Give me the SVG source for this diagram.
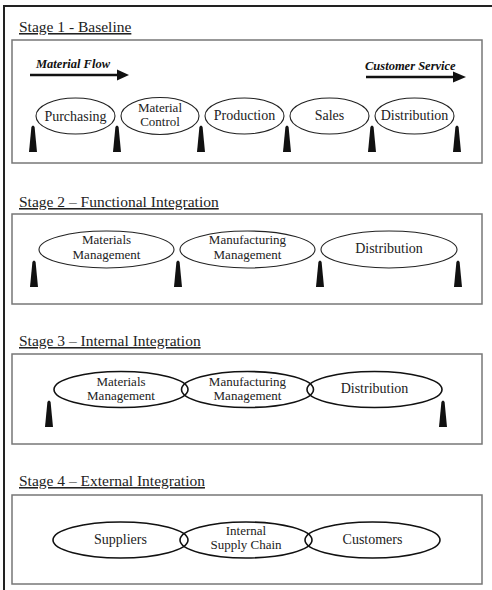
<svg xmlns="http://www.w3.org/2000/svg" width="492" height="590" viewBox="0 0 492 590">
<defs>
<style>
.title{font-family:"Liberation Serif",serif;font-size:15.5px;fill:#222;text-decoration:underline;}
.lbl{font-family:"Liberation Serif",serif;font-size:14px;fill:#222;text-anchor:middle;}
.lbl2{font-family:"Liberation Serif",serif;font-size:13px;fill:#222;text-anchor:middle;}
.flow{font-family:"Liberation Serif",serif;font-size:12.5px;font-weight:bold;font-style:italic;fill:#111;}
.box{fill:none;stroke:#777;stroke-width:1.5;}
.ell{fill:#fff;stroke:#222;stroke-width:1.1;}
.ell2{fill:none;stroke:#111;stroke-width:1.6;}
.spike{fill:#111;}
</style>
<path id="sp" d="M-4,0 L-1.6,-25 Q0,-28 1.6,-25 L4,0 Z"/>
</defs>
<rect width="492" height="590" fill="#fff"/>
<g id="frame" fill="none" stroke="#222" stroke-width="2">
<path d="M492,6 L4,6 L4,590"/>
</g>

<g id="stage1">
<text class="title" x="19" y="32">Stage 1 - Baseline</text>
<rect class="box" x="12" y="40" width="470" height="123"/>
<g id="material-flow">
<text class="flow" x="36" y="68">Material Flow</text>
<line x1="30" y1="75" x2="119" y2="75" stroke="#111" stroke-width="2.5"/>
<polygon points="117,69.5 129,75 117,80.5" fill="#111"/>
</g>
<g id="customer-service">
<text class="flow" x="365" y="70">Customer Service</text>
<line x1="366" y1="77" x2="455" y2="77" stroke="#111" stroke-width="2.5"/>
<polygon points="453,71.5 466,77 453,82.5" fill="#111"/>
</g>
<g id="purchasing"><ellipse class="ell" cx="75.5" cy="116" rx="39.5" ry="18"/><text class="lbl" x="75.5" y="121">Purchasing</text></g>
<g id="material-control"><ellipse class="ell" cx="160" cy="116" rx="39" ry="18.5"/><text class="lbl2" x="160" y="111.5">Material</text><text class="lbl2" x="160" y="126">Control</text></g>
<g id="production"><ellipse class="ell" cx="244.5" cy="116" rx="39.5" ry="18"/><text class="lbl" x="244.5" y="120">Production</text></g>
<g id="sales"><ellipse class="ell" cx="329.5" cy="116" rx="39.5" ry="18"/><text class="lbl" x="329.5" y="120">Sales</text></g>
<g id="distribution1"><ellipse class="ell" cx="414.5" cy="116" rx="39.5" ry="18"/><text class="lbl" x="414.5" y="120">Distribution</text></g>
<g id="spikes1" class="spike">
<use href="#sp" x="33" y="152"/><use href="#sp" x="117" y="152"/><use href="#sp" x="201" y="152"/>
<use href="#sp" x="287" y="152"/><use href="#sp" x="372" y="152"/><use href="#sp" x="457" y="152"/>
</g>
</g>

<g id="stage2">
<text class="title" x="19" y="207">Stage 2 – Functional Integration</text>
<rect class="box" x="12" y="214" width="470" height="90"/>
<g id="materials-mgmt2"><ellipse class="ell" cx="106.5" cy="249.5" rx="67.5" ry="18.5"/><text class="lbl2" x="106.5" y="244">Materials</text><text class="lbl2" x="106.5" y="258.5">Management</text></g>
<g id="manufacturing-mgmt2"><ellipse class="ell" cx="247.5" cy="249.5" rx="67.5" ry="18.5"/><text class="lbl2" x="247.5" y="244">Manufacturing</text><text class="lbl2" x="247.5" y="258.5">Management</text></g>
<g id="distribution2"><ellipse class="ell" cx="389" cy="249.5" rx="68" ry="18.5"/><text class="lbl" x="389" y="253">Distribution</text></g>
<g id="spikes2" class="spike">
<use href="#sp" x="34" y="287"/><use href="#sp" x="178" y="287"/><use href="#sp" x="320" y="287"/><use href="#sp" x="458" y="287"/>
</g>
</g>

<g id="stage3">
<text class="title" x="19" y="346">Stage 3 – Internal Integration</text>
<rect class="box" x="12" y="354" width="470" height="90"/>
<g id="materials-mgmt3"><ellipse class="ell2" cx="121" cy="389.5" rx="67" ry="18"/><text class="lbl2" x="121" y="385.5">Materials</text><text class="lbl2" x="121" y="400">Management</text></g>
<g id="manufacturing-mgmt3"><ellipse class="ell2" cx="247.5" cy="389.5" rx="66" ry="18"/><text class="lbl2" x="247.5" y="385.5">Manufacturing</text><text class="lbl2" x="247.5" y="400">Management</text></g>
<g id="distribution3"><ellipse class="ell2" cx="374.5" cy="389.5" rx="67.5" ry="18"/><text class="lbl" x="374.5" y="393">Distribution</text></g>
<g id="spikes3" class="spike">
<use href="#sp" x="49" y="427"/><use href="#sp" x="443" y="427"/>
</g>
</g>

<g id="stage4">
<text class="title" x="19" y="486">Stage 4 – External Integration</text>
<rect class="box" x="12" y="495" width="470" height="89"/>
<g id="suppliers"><ellipse class="ell2" cx="120.5" cy="540" rx="67.5" ry="18"/><text class="lbl" x="120.5" y="544">Suppliers</text></g>
<g id="internal-supply-chain"><ellipse class="ell2" cx="246" cy="540" rx="66" ry="18"/><text class="lbl2" x="246" y="534.5">Internal</text><text class="lbl2" x="246" y="549">Supply Chain</text></g>
<g id="customers"><ellipse class="ell2" cx="372.5" cy="540" rx="67.5" ry="18"/><text class="lbl" x="372.5" y="544">Customers</text></g>
</g>
</svg>
